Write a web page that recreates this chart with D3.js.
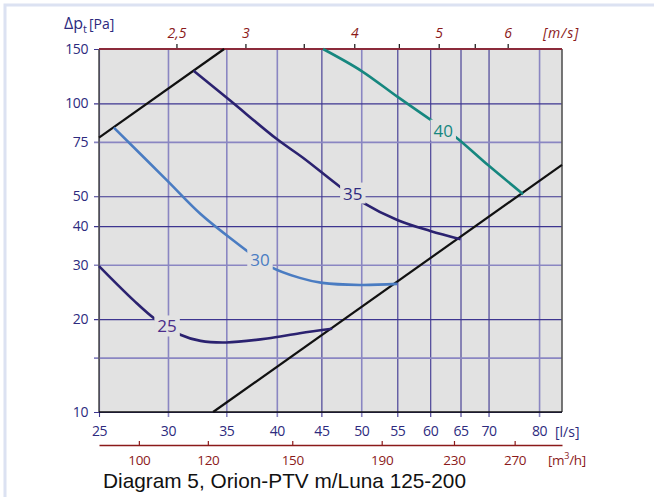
<!DOCTYPE html>
<html><head><meta charset="utf-8">
<script src="https://cdn.jsdelivr.net/npm/d3@7"></script>
<style>
body{margin:0;background:#fff;}
svg{display:block;}
text{font-family:"Open Sans",sans-serif;}
</style></head>
<body>
<svg id="c" width="654" height="497"></svg>
<script>
// ---- data ----
const flowTicks = [25,30,35,40,45,50,55,60,65,70,80];          // l/s
const lightFlow = [30,35,40,50,80];
const dpTicks = [10,15,20,30,40,50,75,100,150];                  // Pa
const dpLabels = [10,20,30,40,50,75,100,150];
const lightDp = [15,30,75];
const velTicks = [2.5,3,3.5,4,4.5,5,5.5,6];                      // m/s
const velLabels = [2.5,3,4,5,6];
const m3hTicks = [100,120,150,190,230,270];                      // m3/h

const curve25 = [[25,29.7],[27.4,23.0],[29.0,20.0],[31.0,17.8],[32.7,17.0],[35.0,16.8],[39.0,17.3],[42.5,18.0],[46.3,18.6]];
const curve30 = [[26.0,83.4],[29.9,56.4],[32.7,43.8],[35.6,36.1],[39.3,29.6],[42.5,27.2],[45.1,26.2],[49.8,25.8],[55.0,26.0]];
const curve35 = [[32.1,127.5],[35.3,102.5],[40.0,76.6],[42.9,66.5],[47.3,53.6],[50.1,47.9],[55.0,41.9],[60.0,38.6],[65.0,36.3]];
const curve40 = [[45.2,150],[50.0,127.5],[55.0,105.1],[60.5,87.2],[64.1,78.0],[69.9,63.1],[76.7,50.8]];
const systemHigh = [[25,77.4],[34.8,150]];
const systemLow = [[33.8,10],[85,63.2]];
const curveLabels = [
  {text:"25", q:29.93, dp:19.0, color:"#4b2d8a"},
  {text:"30", q:38.26, dp:31.3, color:"#4a7cc2"},
  {text:"35", q:48.9, dp:51.2, color:"#2e2a80"},
  {text:"40", q:62.1, dp:81.9, color:"#16877f"}
];

// ---- layout ----
const svg = d3.select("#c");
const L=99, R=562, T=49, B=412;
const ductArea = Math.PI*0.0625*0.0625; // m2
const x = d3.scaleLog().domain([25,85]).range([L,R]);
const y = d3.scaleLog().domain([10,150]).range([B,T]);
const xv = d3.scaleLog().domain([25/1000/ductArea, 85/1000/ductArea]).range([L,R]);
const xm = d3.scaleLog().domain([25*3.6, 85*3.6]).range([L,R]);

const BLUE="#2d2a7e", RED="#8b1a1a", GDARK="#3d3590", GLIGHT="#8a86c2";

// frame
svg.append("rect").attr("x",5).attr("y",5).attr("width",700).attr("height",600)
  .attr("fill","none").attr("stroke","#dce2f2").attr("stroke-width",3);

// plot background
svg.append("rect").attr("x",L).attr("y",T).attr("width",R-L).attr("height",B-T).attr("fill","#e2e2e2");

// vertical grid (bottom axis)
const gx = svg.append("g").attr("transform",`translate(0,${B+5})`)
  .call(d3.axisBottom(x).tickValues(flowTicks).tickFormat(d3.format("d")).tickSize(-(B-T+5)).tickSizeOuter(0).tickPadding(9));
gx.select(".domain").remove();
gx.selectAll(".tick line").attr("stroke",d=>lightFlow.includes(d)?GLIGHT:GDARK).attr("stroke-width",d=>lightFlow.includes(d)?1.6:1.1);
gx.selectAll(".tick text").attr("fill",BLUE).attr("font-size",14).style("letter-spacing","-0.4px");

// horizontal grid (left axis)
const gy = svg.append("g").attr("transform",`translate(${L-5},0)`)
  .call(d3.axisLeft(y).tickValues(dpTicks).tickFormat(d=>dpLabels.includes(d)?d:"").tickSize(-(R-L+5)).tickSizeOuter(0).tickPadding(6));
gy.select(".domain").remove();
gy.selectAll(".tick line").attr("stroke",d=>lightDp.includes(d)?GLIGHT:GDARK).attr("stroke-width",d=>lightDp.includes(d)?1.6:1.1);
gy.selectAll(".tick text").attr("fill",BLUE).attr("font-size",14).style("letter-spacing","-0.4px");

// plot borders
svg.append("line").attr("x1",L).attr("x2",L).attr("y1",T).attr("y2",B).attr("stroke","#555").attr("stroke-width",1.6);
svg.append("line").attr("x1",R).attr("x2",R).attr("y1",T).attr("y2",B).attr("stroke","#555").attr("stroke-width",1.6);
svg.append("line").attr("x1",L).attr("x2",R).attr("y1",B).attr("y2",B).attr("stroke","#111").attr("stroke-width",1.6);

// top velocity axis
const gt = svg.append("g").attr("transform",`translate(0,${T})`)
  .call(d3.axisTop(xv).tickValues(velTicks).tickSize(5).tickSizeOuter(0).tickPadding(6)
    .tickFormat(d=>velLabels.includes(d)?String(d).replace(".",","):""));
gt.select(".domain").remove();
gt.selectAll(".tick line").attr("stroke","#111").attr("stroke-width",1.2);
gt.selectAll(".tick text").attr("fill",RED).attr("font-size",14).attr("font-style","italic");
svg.append("line").attr("x1",L).attr("x2",R).attr("y1",T).attr("y2",T).attr("stroke","#8b2a3a").attr("stroke-width",1.8);
svg.append("text").attr("x",543).attr("y",38).attr("fill",RED).attr("font-size",14).attr("font-style","italic").style("letter-spacing","1px").text("[m/s]");

// bottom m3/h axis
const gm = svg.append("g").attr("transform",`translate(0,445)`)
  .call(d3.axisBottom(xm).tickValues(m3hTicks).tickSize(-4).tickSizeOuter(0).tickFormat(d3.format("d")));
gm.select(".domain").attr("stroke",RED).attr("stroke-width",1.4);
gm.selectAll(".tick line").attr("stroke",RED).attr("stroke-width",1.2);
gm.selectAll(".tick text").attr("fill",RED).attr("font-size",13.5).style("letter-spacing","-0.3px")
  .attr("y",19.5).attr("dy",null);

// unit labels
svg.append("text").attr("x",555).attr("y",437).attr("fill",BLUE).attr("font-size",14).text("[l/s]");
const mt = svg.append("text").attr("x",548).attr("y",464.5).attr("fill",RED).attr("font-size",13.5).style("letter-spacing","-0.3px");
mt.append("tspan").text("[m");
mt.append("tspan").attr("font-size",9).attr("dy",-6).text("3");
mt.append("tspan").attr("dy",6).text("/h]");

const yt = svg.append("text").attr("x",64).attr("y",29).attr("fill",BLUE).attr("font-size",16);
yt.append("tspan").text("Δp");
yt.append("tspan").attr("font-size",11).attr("dy",4).text("t");
yt.append("tspan").attr("dy",-4).attr("dx",2).attr("font-size",14).text("[Pa]");

// curves
const line = d3.line().x(d=>x(d[0])).y(d=>y(d[1])).curve(d3.curveCatmullRom.alpha(0.5));
const straight = d3.line().x(d=>x(d[0])).y(d=>y(d[1]));
const plot = svg.append("g");
plot.append("path").attr("d",straight(systemHigh)).attr("fill","none").attr("stroke","#111").attr("stroke-width",2.2);
plot.append("path").attr("d",straight(systemLow)).attr("fill","none").attr("stroke","#111").attr("stroke-width",2.2);
[[curve25,"#2b2270"],[curve30,"#4a7cc2"],[curve35,"#2b2270"],[curve40,"#16877f"]].forEach(([c,col])=>{
  plot.append("path").attr("d",line(c)).attr("fill","none").attr("stroke",col).attr("stroke-width",2.6).attr("stroke-linecap","butt");
});

// curve labels with background
curveLabels.forEach(l=>{
  const g = plot.append("g");
  const t = g.append("text").attr("x",x(l.q)).attr("y",y(l.dp)).attr("text-anchor","middle").attr("dominant-baseline","central")
    .attr("font-size",17).attr("fill",l.color).text(l.text);
  const bb = t.node().getBBox();
  g.insert("rect","text").attr("x",bb.x-3).attr("y",bb.y+1).attr("width",bb.width+6).attr("height",bb.height-2).attr("fill","#e2e2e2");
});

// caption
svg.append("text").attr("x",103).attr("y",488).attr("fill","#111").attr("font-size",20.8)
  .style("font-family","'Liberation Sans',Arial,sans-serif").text("Diagram 5, Orion-PTV m/Luna 125-200");
</script>
</body></html>
